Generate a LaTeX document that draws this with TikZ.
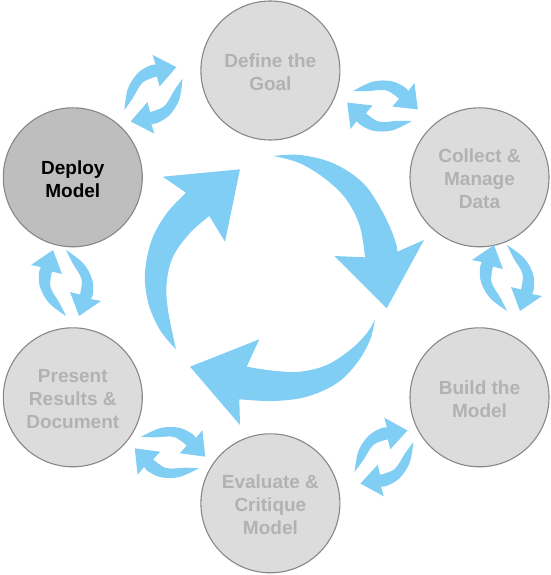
\documentclass[tikz,border=0pt]{standalone}
\usepackage{fontspec}
\setmainfont{Liberation Sans}
\definecolor{arrowblue}{RGB}{128,206,244}
\definecolor{circfill}{RGB}{220,220,220}
\definecolor{deployfill}{RGB}{190,190,190}
\definecolor{circline}{RGB}{135,135,135}
\definecolor{txtgray}{RGB}{178,178,178}
\tikzset{
  stage/.style={circle, draw=circline, line width=1.1pt, fill=circfill,
    minimum size=139pt, inner sep=0pt},
  stagetext/.style={align=center, inner sep=0pt,
    font=\fontsize{19}{23}\selectfont\bfseries, text=txtgray},
  bluefill/.style={fill=arrowblue, draw=none},
  smoothedge/.style={smooth, tension=0.6},
}
\newcommand\refreshhalf{%
  \fill[bluefill] plot[smoothedge] coordinates {(-33,0) (-20,-17) (-4,-26) (10,-27) (16,-25)}
    -- (18,-35) -- (33,-13) -- (9,-4) -- (11.5,-14)
    -- plot[smoothedge] coordinates {(11.5,-14) (-4,-15.5) (-20,-6.5) (-33,0)} -- cycle;}
\newcommand\refreshicon{\refreshhalf\begin{scope}[rotate=180]\refreshhalf\end{scope}}
\begin{document}
\begin{tikzpicture}[x=1pt,y=-1pt]
\useasboundingbox (0,0) rectangle (550,575);
% stages
\node[stage] (define) at (270.4,70.5) {};
\node[stage] (collect) at (479.5,177.3) {};
\node[stage] (build) at (479.5,397.3) {};
\node[stage] (evaluate) at (270.4,503.3) {};
\node[stage] (present) at (72.8,397.3) {};
\node[stage, fill=deployfill] (deploy) at (72.8,177.3) {};
\node[stagetext] (definetext) at ([yshift=-1.5pt]define.center) {Define the\\Goal};
\node[stagetext] (collecttext) at ([yshift=-1.5pt]collect.center) {Collect \&\\Manage\\Data};
\node[stagetext] (buildtext) at ([yshift=-1.5pt]build.center) {Build the\\Model};
\node[stagetext] (evaluatetext) at ([yshift=-1.5pt]evaluate.center) {Evaluate \&\\Critique\\Model};
\node[stagetext] (presenttext) at ([yshift=-1.5pt]present.center) {Present\\Results \&\\Document};
\node[stagetext, text=black] (deploytext) at ([yshift=-1.5pt]deploy.center) {Deploy\\Model};
% central cycle arrows
\fill[bluefill] plot[smoothedge] coordinates {(273.3,156) (300,155) (333.3,163.3) (363.3,183.3) (383.3,213.3) (395,240) (397.3,251.7)}
  -- (424,240) -- (386.7,308.3) -- (334.3,256) -- (365,257.3)
  -- plot[smoothedge] coordinates {(365,257.3) (360,226.7) (346.7,200) (326.7,180) (300,163.3) (273.3,156)} -- cycle;
\fill[bluefill] plot[smoothedge] coordinates {(375,319.3) (370,340) (356.7,363.3) (336.7,383.3) (306.7,396.7) (273.3,401) (239.3,399.3)}
  -- (240,425) -- (190,366.7) -- (259.3,339.3) -- (246.7,366.7)
  -- plot[smoothedge] coordinates {(246.7,366.7) (273.3,370.7) (300,371.7) (326.7,365) (350,350) (366.7,333.3) (375,319.3)} -- cycle;
\fill[bluefill] plot[smoothedge] coordinates {(176,349.3) (160,330) (148.3,303) (145,273) (151.7,240) (166.7,213.3) (186,192.7)}
  -- (162.7,176.7) -- (240,169.3) -- (225,241.7) -- (209.3,216)
  -- plot[smoothedge] coordinates {(209.3,216) (190,233) (173,256.7) (166.7,283) (168,310) (176,349.3)} -- cycle;
% refresh pairs between neighbouring stages
\begin{scope}[shift={(153.5pt,-94.3pt)}, x={(0.880pt,0.476pt)}, y={(0.476pt,-0.880pt)}]\refreshicon\end{scope}
\begin{scope}[shift={(382.5pt,-106pt)}, x={(0.891pt,-0.455pt)}, y={(-0.455pt,-0.891pt)}]\refreshicon\end{scope}
\begin{scope}[shift={(507pt,-278pt)}, x={(0pt,-1pt)}, y={(-1pt,0pt)}]\refreshicon\end{scope}
\begin{scope}[shift={(384pt,-457pt)}, x={(-0.892pt,-0.452pt)}, y={(-0.452pt,0.892pt)}]\refreshicon\end{scope}
\begin{scope}[shift={(170pt,-452.5pt)}, x={(-0.881pt,0.473pt)}, y={(0.473pt,0.881pt)}]\refreshicon\end{scope}
\begin{scope}[shift={(66pt,-283pt)}, x={(0pt,1pt)}, y={(1pt,0pt)}]\refreshicon\end{scope}
\end{tikzpicture}
\end{document}
